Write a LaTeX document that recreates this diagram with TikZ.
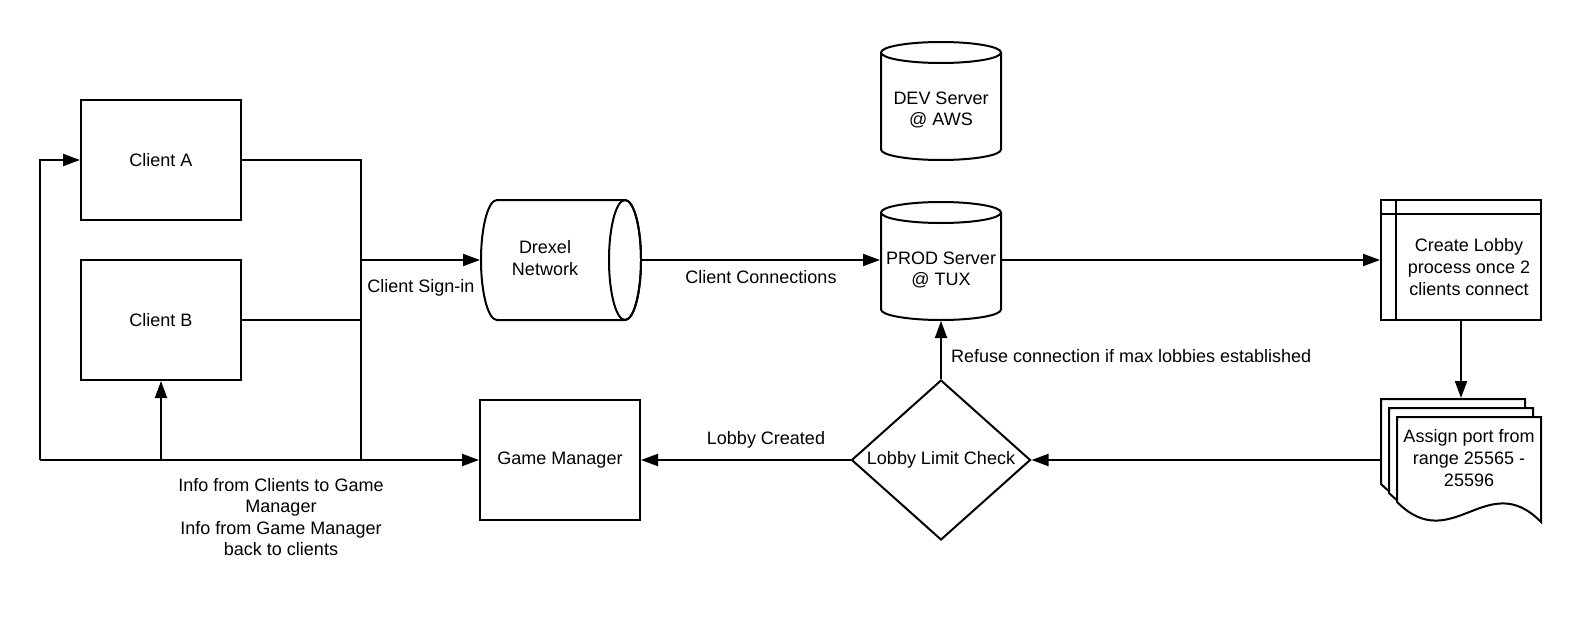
\documentclass[tikz,border=0pt]{standalone}
\usepackage{fontspec}
\setmainfont{Liberation Sans}
\usetikzlibrary{arrows.meta,shapes.geometric}
\begin{document}
\begin{tikzpicture}[x=1pt,y=1pt,line width=2pt,
  every node/.style={font=\fontsize{18}{21.6}\selectfont,align=center,inner sep=0pt},
  arr/.style={-{Triangle[length=17pt,width=12pt]}},
  box/.style={draw,minimum width=160pt,minimum height=120pt},
  ghost/.style={minimum width=#1,minimum height=120pt},
  outline/.style={draw,fill=white}]
\fill[white] (0,0) rectangle (1581,-618);
\useasboundingbox (0,0) rectangle (1581,-618);

% clients and game manager
\node[box] (clientA) at (161,-160) {Client A};
\node[box] (clientB) at (161,-320) {Client B};
\node[box] (gm) at (560,-460) {Game Manager};

% Drexel network (horizontal cylinder)
\node[ghost=160pt] (drexel) at (561,-260) {};
\draw[outline] (497,-200) -- (625,-200) arc[start angle=90,end angle=-90,x radius=16,y radius=60]
  -- (497,-320) arc[start angle=270,end angle=90,x radius=16,y radius=60] -- cycle;
\draw (625,-260) ellipse[x radius=16,y radius=60];
\node at (545,-258) {Drexel\\Network};

% PROD server
\node[ghost=120pt] (prod) at (941,-260) {};
\draw[outline] (881,-212.5) -- (881,-309.5) arc[start angle=180,end angle=360,x radius=60,y radius=10.5]
  -- (1001,-212.5) arc[start angle=0,end angle=180,x radius=60,y radius=10.5] -- cycle;
\draw (881,-212.5) arc[start angle=180,end angle=360,x radius=60,y radius=10.5];
\node at (941,-270) {PROD Server\\@ TUX};

% DEV server
\node[ghost=120pt] (dev) at (941,-100) {};
\draw[outline] (881,-52.5) -- (881,-149.5) arc[start angle=180,end angle=360,x radius=60,y radius=10.5]
  -- (1001,-52.5) arc[start angle=0,end angle=180,x radius=60,y radius=10.5] -- cycle;
\draw (881,-52.5) arc[start angle=180,end angle=360,x radius=60,y radius=10.5];
\node at (941,-110) {DEV Server\\@ AWS};

% Create lobby (predefined process)
\node[box] (lobby) at (1461,-260) {};
\draw ([xshift=16pt]lobby.north west) -- ([xshift=16pt]lobby.south west);
\draw ([yshift=-15pt]lobby.north west) -- ([yshift=-15pt]lobby.north east);
\node at (1469,-267) {Create Lobby\\process once 2\\clients connect};

% Assign port (multiple documents)
\node[minimum width=160pt,minimum height=122pt] (assign) at (1461,-460) {};
\draw[outline] (1381,-399) -- (1525,-399) -- (1525,-504) .. controls (1471,-449) and (1436,-539) .. (1381,-484) -- cycle;
\draw[outline] (1389,-408) -- (1533,-408) -- (1533,-513) .. controls (1479,-458) and (1444,-548) .. (1389,-493) -- cycle;
\draw[outline] (1397,-417) -- (1541,-417) -- (1541,-522) .. controls (1487,-467) and (1452,-557) .. (1397,-502) -- cycle;
\node at (1469,-458) {Assign port from\\range 25565 -\\25596};

% Lobby limit check
\node[diamond,draw,minimum width=179pt,minimum height=160pt] (check) at (941,-460) {};
\node at (check) {Lobby Limit Check};

% connectors
\coordinate (jTop) at (361,-160);
\coordinate (jBot) at (361,-460);
\coordinate (lBot) at (40,-460);
\draw (clientA.east) -- (jTop) -- (jBot);
\draw (clientB.east) -- (clientB.east -| jTop);
\draw[arr] (jTop |- drexel.west) -- (drexel.west);
\draw[arr] (lBot) -- (gm.west);
\draw[arr] (lBot) |- (clientA.west);
\draw[arr] (clientB.south |- lBot) -- (clientB.south);
\draw[arr] (drexel.east) -- (prod.west);
\draw[arr] (prod.east) -- (lobby.west);
\draw[arr] (lobby.south) -- (assign.north);
\draw[arr] (assign.west) -- (check.east);
\draw[arr] (check.west) -- (gm.east);
\draw[arr] (check.north) -- (prod.south);

% labels
\node at (421,-288) {Client Sign-in};
\node at (281,-517) {Info from Clients to Game\\Manager\\Info from Game Manager\\back to clients};
\node at (761,-277) {Client Connections};
\node at (766,-440) {Lobby Created};
\node[anchor=west] at (950,-356) {Refuse connection if max lobbies established};
\end{tikzpicture}
\end{document}
